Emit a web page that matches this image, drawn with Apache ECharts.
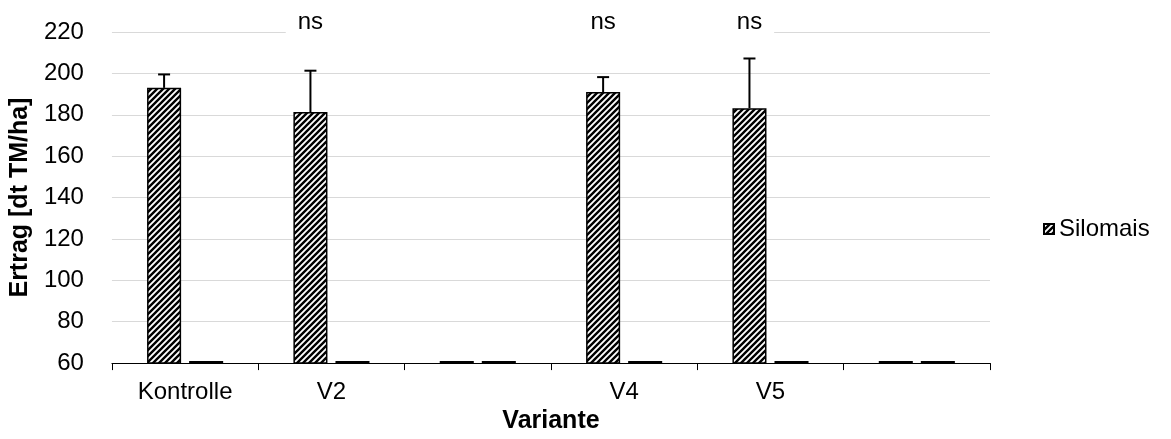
<!DOCTYPE html>
<html>
<head>
<meta charset="utf-8">
<script src="https://cdn.jsdelivr.net/npm/echarts@6/dist/echarts.min.js"></script>
<style>
html,body{margin:0;padding:0;background:#fff;}
#chart{width:1171px;height:439px;}
</style>
</head>
<body>
<div id="chart"></div>
<script>
// ---- data ----
var categories = ['Kontrolle', 'V2', '', 'V4', 'V5', ''];
var silomais = [193, 181.3, 61, 191, 183.2, 61];
var series2 = [61, 61, 61, 61, 61, 61];
var silomaisErr = [6.5, 20, null, 7.2, 24, null];
var sigLabels = ['', 'ns', '', 'ns', 'ns', ''];
var sigLevel = 224.5;
var yTicks = [60, 80, 100, 120, 140, 160, 180, 200, 220];

var FONT = 'Liberation Sans, Arial, sans-serif';
var BAR_GAP = 0.235, CAT_GAP = 0.48;

// hatch pattern
var pc = document.createElement('canvas');
pc.width = 6; pc.height = 6;
var ctx = pc.getContext('2d');
ctx.fillStyle = '#fff'; ctx.fillRect(0, 0, 6, 6);
ctx.strokeStyle = '#000'; ctx.lineWidth = 2.4;
ctx.beginPath();
ctx.moveTo(-1, 1); ctx.lineTo(1, -1);
ctx.moveTo(0, 6); ctx.lineTo(6, 0);
ctx.moveTo(5, 7); ctx.lineTo(7, 5);
ctx.stroke();

var errData = [];
silomaisErr.forEach(function (e, i) { if (e != null) errData.push([i, silomais[i], e]); });
var sigData = [];
sigLabels.forEach(function (s, i) { if (s) sigData.push([i, sigLevel, s]); });

function firstBarX(api, i, v) {
  var band = api.size([1, 0])[0];
  var w = band * (1 - CAT_GAP) / (2 + BAR_GAP);
  return api.coord([i, v])[0] - w * (1 + BAR_GAP) / 2;
}

var chart = echarts.init(document.getElementById('chart'));
chart.setOption({
  animation: false,
  backgroundColor: '#fff',
  grid: { left: 110, right: 181, top: 32, bottom: 71, containLabel: false },
  legend: {
    data: ['Silomais'], left: 1038, top: 212,
    itemWidth: 10, itemHeight: 10, icon: 'rect',
    textStyle: { fontSize: 24, color: '#000', fontFamily: FONT }
  },
  xAxis: {
    type: 'category', data: categories,
    name: 'Variante', nameLocation: 'middle', nameGap: 41,
    nameTextStyle: { fontSize: 25, fontWeight: 'bold', color: '#000', fontFamily: FONT },
    axisLine: { lineStyle: { color: '#000', width: 1 } },
    axisTick: { show: true, length: 7, lineStyle: { color: '#000' } },
    axisLabel: { fontSize: 24, color: '#000', margin: 17, interval: 0, fontFamily: FONT },
    splitLine: { show: false }
  },
  yAxis: {
    type: 'value', min: yTicks[0], max: yTicks[yTicks.length - 1], interval: 20,
    name: 'Ertrag [dt TM/ha]', nameLocation: 'middle', nameGap: 76,
    nameTextStyle: { fontSize: 25, fontWeight: 'bold', color: '#000', fontFamily: FONT },
    axisLine: { show: false }, axisTick: { show: false },
    axisLabel: { fontSize: 24, color: '#000', margin: 28, fontFamily: FONT },
    splitLine: { lineStyle: { color: '#d9d9d9', width: 1 } }
  },
  series: [
    {
      name: 'Silomais', type: 'bar', data: silomais,
      barGap: (BAR_GAP * 100) + '%', barCategoryGap: (CAT_GAP * 100) + '%',
      itemStyle: { color: { image: pc, repeat: 'repeat' }, borderColor: '#000', borderWidth: 1.5 }
    },
    {
      name: 'Serie 2', type: 'bar', data: series2,
      itemStyle: { color: '#000', borderColor: '#000', borderWidth: 2 }
    },
    {
      name: 'err', type: 'custom', data: errData, z: 5,
      renderItem: function (params, api) {
        var i = api.value(0), v = api.value(1), e = api.value(2);
        var cx = firstBarX(api, i, v);
        var y0 = api.coord([i, v])[1];
        var y1 = api.coord([i, v + e])[1];
        return {
          type: 'group', children: [
            { type: 'line', shape: { x1: cx, y1: y0, x2: cx, y2: y1 }, style: { stroke: '#000', lineWidth: 2 } },
            { type: 'line', shape: { x1: cx - 6, y1: y1, x2: cx + 6, y2: y1 }, style: { stroke: '#000', lineWidth: 2 } }
          ]
        };
      }
    },
    {
      name: 'sig', type: 'custom', data: sigData, z: 6,
      renderItem: function (params, api) {
        var i = api.value(0), v = api.value(1);
        var cx = firstBarX(api, i, v);
        var y = api.coord([i, v])[1];
        return {
          type: 'text', x: cx, y: y,
          style: {
            text: sigLabels[i], fill: '#000', fontSize: 24, fontFamily: FONT,
            align: 'center', verticalAlign: 'middle',
            backgroundColor: '#fff', padding: [2, 12]
          }
        };
      },
      markArea: {
        silent: true, itemStyle: { color: '#fff' },
        data: [[{ xAxis: 'V2', yAxis: 219 }, { xAxis: 'V5', yAxis: 221 }]]
      }
    }
  ]
});
</script>
</body>
</html>
